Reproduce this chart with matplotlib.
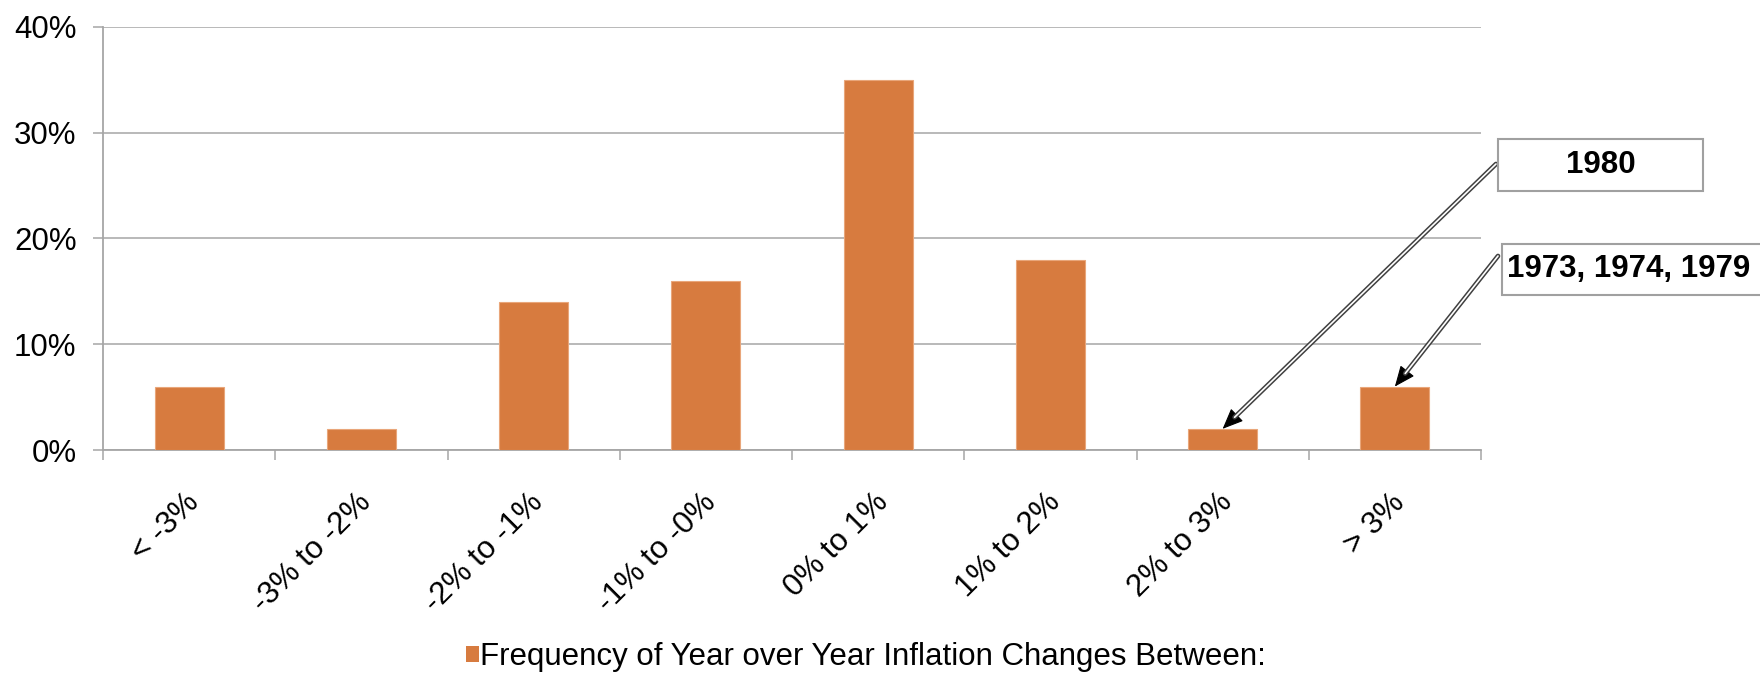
import matplotlib
matplotlib.use("Agg")
import matplotlib.pyplot as plt
import matplotlib.patheffects as pe
import matplotlib.transforms as mtrans
from matplotlib.patches import Rectangle, Patch
import numpy as np

plt.rcParams['font.family'] = ['Liberation Sans', 'DejaVu Sans']

# frequency of year-over-year inflation changes, in percent
categories = ['< -3%', '-3% to -2%', '-2% to -1%', '-1% to -0%',
              '0% to 1%', '1% to 2%', '2% to 3%', '> 3%']
frequency = [6, 2, 14, 16, 35, 18, 2, 6]
y_ticks = [0, 10, 20, 30, 40]
series_name = 'Frequency of Year over Year Inflation Changes Between:'

# callouts: (text, category index the arrow points at)
callouts = [('1980', 6), ('1973, 1974, 1979', 7)]

W, H = 1760, 674
bar_color = '#D77B3F'
grid_color = '#A6A6A6'
fs = 22.5


def fx(px):
    return px / W


def fy(py):
    return 1 - py / H


fig = plt.figure(figsize=(W / 100, H / 100), dpi=100)
ax = fig.add_axes([fx(103), fy(450), fx(1481) - fx(103), fy(27) - fy(450)])

x = np.arange(len(categories))
ax.bar(x, frequency, width=0.4, color=bar_color, edgecolor='#E9A67A',
       linewidth=0.8, zorder=3)

ax.set_xlim(-0.5, len(categories) - 0.5)
ax.set_ylim(0, 40)
ax.set_yticks(y_ticks)
ax.set_yticklabels([f'{v}%' for v in y_ticks], fontsize=fs)
ax.yaxis.grid(True, color=grid_color, linewidth=1.1, zorder=0)
ax.set_axisbelow(True)
ax.tick_params(axis='y', length=7, width=1.1, color=grid_color, pad=12)

# labels at category centres, tick marks at the boundaries
ax.set_xticks(x)
ax.set_xticklabels(categories, fontsize=fs, rotation=45, ha='right', va='top')
ax.set_xticks(np.arange(len(categories) + 1) - 0.5, minor=True)
ax.tick_params(axis='x', which='major', length=0, pad=27)
ax.tick_params(axis='x', which='minor', length=7, width=1.1, color=grid_color)
shift = mtrans.ScaledTranslation(16 / 100, 0, fig.dpi_scale_trans)
for lab in ax.get_xticklabels():
    lab.set_transform(lab.get_transform() + shift)

for side in ['top', 'right']:
    ax.spines[side].set_visible(False)
for side in ['left', 'bottom']:
    ax.spines[side].set_color(grid_color)
    ax.spines[side].set_linewidth(1.3)

# legend below the chart
fig.legend(handles=[Patch(facecolor=bar_color, edgecolor='none')],
           labels=[series_name], loc='center', bbox_to_anchor=(fx(866), fy(657)),
           frameon=False, fontsize=fs, handlelength=0.42, handleheight=0.42,
           handletextpad=0.05, borderpad=0)

# callout boxes
boxes = [(1498, 139, 1703, 191), (1502, 244, 1790, 295)]
tails = [(1496, 164), (1498, 256)]
for (label, idx), (x0, y0, x1, y1), (tx, ty) in zip(callouts, boxes, tails):
    fig.patches.append(Rectangle((fx(x0), fy(y1)), fx(x1) - fx(x0), fy(y0) - fy(y1),
                                 transform=fig.transFigure, facecolor='white',
                                 edgecolor='#A0A0A0', linewidth=1.5, zorder=5))
    if x1 > W:
        fig.text(fx(1507), fy((y0 + y1) / 2), label, ha='left', va='center',
                 fontsize=22.5, fontweight='bold', zorder=6)
    else:
        fig.text(fx((x0 + x1) / 2), fy((y0 + y1) / 2), label, ha='center',
                 va='center', fontsize=22.5, fontweight='bold', zorder=6)

    tip = (idx, frequency[idx])
    head = ax.annotate('', xy=tip, xycoords='data',
                       xytext=(fx(tx), fy(ty)), textcoords='figure fraction',
                       annotation_clip=False,
                       arrowprops=dict(arrowstyle='-|>,head_length=1.3,head_width=0.55',
                                       color='black', lw=0.8, shrinkA=0, shrinkB=0))
    shaft = ax.annotate('', xy=tip, xycoords='data',
                        xytext=(fx(tx), fy(ty)), textcoords='figure fraction',
                        annotation_clip=False,
                        arrowprops=dict(arrowstyle='-', color='white', lw=1.2,
                                        shrinkA=0, shrinkB=12))
    shaft.arrow_patch.set_path_effects([pe.Stroke(linewidth=3.4, foreground='#404040'),
                                        pe.Normal()])
    head.set_zorder(7)
    shaft.set_zorder(8)

fig.savefig('out.png', dpi=100)
